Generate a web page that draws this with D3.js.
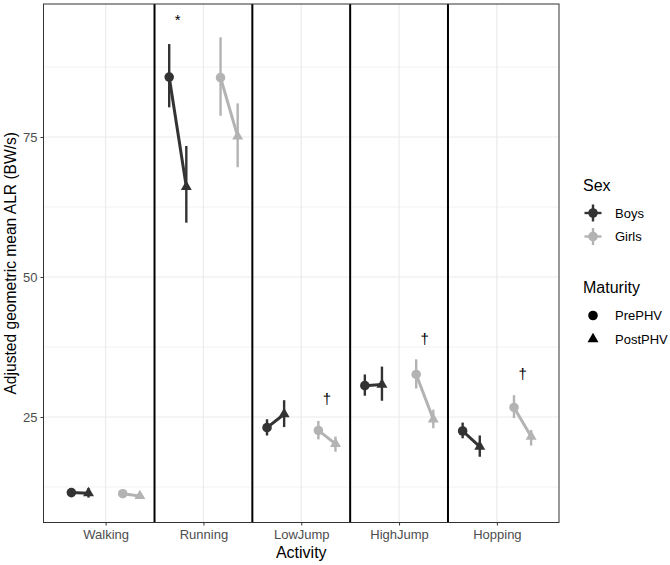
<!DOCTYPE html>
<html>
<head>
<meta charset="utf-8">
<script src="https://cdn.jsdelivr.net/npm/d3@7"></script>
<style>
  body { margin: 0; background: #fff; }
  text { font-family: "Liberation Sans", Arial, sans-serif; }
</style>
</head>
<body>
<div id="chart"></div>
<script>
// categories
var activities = ["Walking", "Running", "LowJump", "HighJump", "Hopping"];
var sexes = ["Boys", "Girls"];
var maturities = ["PrePHV", "PostPHV"];
var yTicks = [25, 50, 75];
var yMinor = [12.5, 37.5, 62.5, 87.5];

// adjusted geometric mean ALR and CI per activity
var boysPre    = [11.5, 85.7, 23.1, 30.6, 22.5];
var boysPreLo  = [11.0, 80.3, 21.7, 28.8, 21.2];
var boysPreHi  = [12.0, 91.6, 24.6, 32.6, 24.0];
var boysPost   = [11.4, 66.1, 25.5, 30.8, 19.7];
var boysPostLo = [10.6, 59.7, 23.2, 27.9, 17.9];
var boysPostHi = [12.3, 73.4, 28.0, 34.0, 21.7];
var girlsPre    = [11.3, 85.6, 22.6, 32.6, 26.7];
var girlsPreLo  = [10.9, 78.8, 21.0, 30.1, 24.8];
var girlsPreHi  = [11.8, 92.8, 24.3, 35.3, 28.9];
var girlsPost   = [10.9, 75.1, 20.2, 24.6, 21.5];
var girlsPostLo = [10.5, 69.6, 18.8, 23.0, 19.9];
var girlsPostHi = [11.3, 81.0, 21.5, 26.3, 22.7];

// significance marks
var markLabels   = ["*", "\u2020", "\u2020", "\u2020"];
var markActivity = ["Running", "LowJump", "HighJump", "Hopping"];
var markSex      = ["Boys", "Girls", "Girls", "Girls"];
var markValue    = [95.9, 28.2, 38.9, 32.7];

var colors = {Boys: "#333333", Girls: "#B3B3B3"};

var W = 670, H = 565;
var panel = {left: 43.5, right: 559, top: 4, bottom: 522.5};

var svg = d3.select("#chart").append("svg")
    .attr("width", W).attr("height", H);

var x = d3.scalePoint()
    .domain(activities)
    .range([panel.left, panel.right])
    .padding(0.635);
var step = x.step();

var y = d3.scaleLinear()
    .domain([6.16, 98.75])
    .range([panel.bottom, panel.top]);

// dodge offsets (fraction of step)
var sexOffset = {Boys: -0.2625, Girls: 0.2625};
var matOffset = {PrePHV: -0.0875, PostPHV: 0.0875};
function xPos(act, sex, mat) {
    var o = sexOffset[sex] + (mat ? matOffset[mat] : 0);
    return x(act) + o * step;
}

// build rows from the arrays
var rows = [];
var series = [
    {sex: "Boys", mat: "PrePHV", v: boysPre, lo: boysPreLo, hi: boysPreHi},
    {sex: "Boys", mat: "PostPHV", v: boysPost, lo: boysPostLo, hi: boysPostHi},
    {sex: "Girls", mat: "PrePHV", v: girlsPre, lo: girlsPreLo, hi: girlsPreHi},
    {sex: "Girls", mat: "PostPHV", v: girlsPost, lo: girlsPostLo, hi: girlsPostHi}
];
series.forEach(function(s) {
    activities.forEach(function(a, i) {
        rows.push({activity: a, sex: s.sex, mat: s.mat, v: s.v[i], lo: s.lo[i], hi: s.hi[i]});
    });
});

// panel background + grid
svg.append("rect")
    .attr("x", panel.left).attr("y", panel.top)
    .attr("width", panel.right - panel.left)
    .attr("height", panel.bottom - panel.top)
    .attr("fill", "#fff");

var grid = svg.append("g");
grid.selectAll(".minor").data(yMinor).enter().append("line")
    .attr("x1", panel.left).attr("x2", panel.right)
    .attr("y1", function(d) { return y(d); })
    .attr("y2", function(d) { return y(d); })
    .attr("stroke", "#F2F2F2").attr("stroke-width", 1);
grid.selectAll(".major").data(yTicks).enter().append("line")
    .attr("x1", panel.left).attr("x2", panel.right)
    .attr("y1", function(d) { return y(d); })
    .attr("y2", function(d) { return y(d); })
    .attr("stroke", "#EBEBEB").attr("stroke-width", 1.2);
grid.selectAll(".vmajor").data(activities).enter().append("line")
    .attr("x1", function(d) { return x(d); })
    .attr("x2", function(d) { return x(d); })
    .attr("y1", panel.top).attr("y2", panel.bottom)
    .attr("stroke", "#EBEBEB").attr("stroke-width", 1.2);

// black separators between activities
svg.selectAll(".sep").data(activities.slice(1)).enter().append("line")
    .attr("x1", function(d) { return x(d) - step / 2; })
    .attr("x2", function(d) { return x(d) - step / 2; })
    .attr("y1", panel.top).attr("y2", panel.bottom)
    .attr("stroke", "#000").attr("stroke-width", 2);

// connecting lines pre -> post
var pairs = [];
sexes.forEach(function(sex) {
    activities.forEach(function(a) {
        var pre = rows.find(function(r) { return r.activity == a && r.sex == sex && r.mat == "PrePHV"; });
        var post = rows.find(function(r) { return r.activity == a && r.sex == sex && r.mat == "PostPHV"; });
        pairs.push({sex: sex, pre: pre, post: post});
    });
});
svg.selectAll(".conn").data(pairs).enter().append("line")
    .attr("x1", function(d) { return xPos(d.pre.activity, d.sex, "PrePHV"); })
    .attr("y1", function(d) { return y(d.pre.v); })
    .attr("x2", function(d) { return xPos(d.post.activity, d.sex, "PostPHV"); })
    .attr("y2", function(d) { return y(d.post.v); })
    .attr("stroke", function(d) { return colors[d.sex]; })
    .attr("stroke-width", 3);

// error bars
svg.selectAll(".err").data(rows).enter().append("line")
    .attr("x1", function(d) { return xPos(d.activity, d.sex, d.mat); })
    .attr("x2", function(d) { return xPos(d.activity, d.sex, d.mat); })
    .attr("y1", function(d) { return y(d.lo); })
    .attr("y2", function(d) { return y(d.hi); })
    .attr("stroke", function(d) { return colors[d.sex]; })
    .attr("stroke-width", 2.4);

// points
var circleSym = d3.symbol().type(d3.symbolCircle).size(72);
var triSym = d3.symbol().type(d3.symbolTriangle).size(52);
svg.selectAll(".pt").data(rows).enter().append("path")
    .attr("d", function(d) { return d.mat == "PrePHV" ? circleSym() : triSym(); })
    .attr("transform", function(d) {
        return "translate(" + xPos(d.activity, d.sex, d.mat) + "," + y(d.v) + ")";
    })
    .attr("fill", function(d) { return colors[d.sex]; });

// significance marks
svg.selectAll(".mark").data(markLabels).enter().append("text")
    .attr("x", function(d, i) { return xPos(markActivity[i], markSex[i]); })
    .attr("y", function(d, i) { return y(markValue[i]); })
    .attr("dy", "0.35em")
    .attr("text-anchor", "middle")
    .attr("font-size", 15)
    .attr("fill", "#000")
    .text(function(d) { return d; });

// panel border
svg.append("rect")
    .attr("x", panel.left).attr("y", panel.top)
    .attr("width", panel.right - panel.left)
    .attr("height", panel.bottom - panel.top)
    .attr("fill", "none").attr("stroke", "#333333").attr("stroke-width", 1);

// axes
var xAxis = svg.append("g")
    .attr("transform", "translate(0," + panel.bottom + ")")
    .call(d3.axisBottom(x).tickSize(3).tickPadding(4));
var yAxis = svg.append("g")
    .attr("transform", "translate(" + panel.left + ",0)")
    .call(d3.axisLeft(y).tickValues(yTicks).tickSize(3).tickPadding(3));
[xAxis, yAxis].forEach(function(ax) {
    ax.select(".domain").remove();
    ax.selectAll(".tick line").attr("stroke", "#333333");
    ax.selectAll(".tick text")
        .attr("fill", "#4D4D4D")
        .attr("font-size", 13)
        .attr("font-family", "Liberation Sans, Arial, sans-serif");
});

svg.append("text")
    .attr("x", (panel.left + panel.right) / 2)
    .attr("y", 558)
    .attr("text-anchor", "middle")
    .attr("font-size", 16)
    .text("Activity");

svg.append("text")
    .attr("transform", "translate(15.5," + (panel.top + panel.bottom) / 2 + ") rotate(-90)")
    .attr("text-anchor", "middle")
    .attr("font-size", 15.6)
    .text("Adjusted geometric mean ALR (BW/s)");

// legends
var leg = svg.append("g");
leg.append("text").attr("x", 583).attr("y", 191).attr("font-size", 16).text("Sex");
sexes.forEach(function(s, i) {
    var cy = 213 + i * 23.5;
    var g = leg.append("g").attr("transform", "translate(593," + cy + ")");
    g.append("line").attr("x1", -8.5).attr("x2", 8.5).attr("y1", 0).attr("y2", 0)
        .attr("stroke", colors[s]).attr("stroke-width", 2.4);
    g.append("line").attr("x1", 0).attr("x2", 0).attr("y1", -8.5).attr("y2", 8.5)
        .attr("stroke", colors[s]).attr("stroke-width", 2.4);
    g.append("path").attr("d", circleSym()).attr("fill", colors[s]);
    leg.append("text").attr("x", 615).attr("y", cy).attr("dy", "0.35em")
        .attr("font-size", 13).text(s);
});

leg.append("text").attr("x", 583).attr("y", 293).attr("font-size", 16).text("Maturity");
maturities.forEach(function(m, i) {
    var cy = 315.5 + i * 23.5;
    leg.append("path")
        .attr("d", m == "PrePHV" ? circleSym() : triSym())
        .attr("transform", "translate(593," + cy + ")")
        .attr("fill", "#000");
    leg.append("text").attr("x", 615).attr("y", cy).attr("dy", "0.35em")
        .attr("font-size", 13).text(m);
});
</script>
</body>
</html>
